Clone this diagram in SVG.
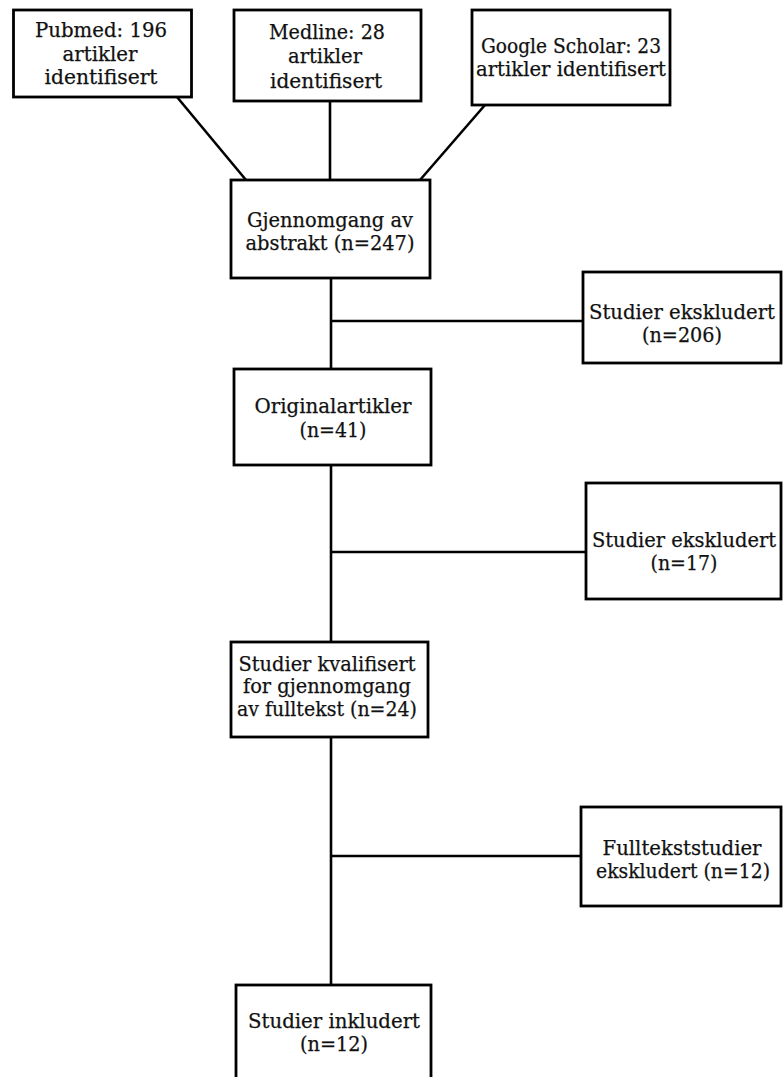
<svg xmlns="http://www.w3.org/2000/svg" width="784" height="1077" viewBox="0 0 784 1077">
<style>
.box{fill:#fff;stroke:#000;stroke-width:2.8}
.t{font-family:"DejaVu Serif","Liberation Serif",serif;font-size:20px;fill:#111;stroke:#111;stroke-width:0.25;text-anchor:middle}
.c{stroke:#000;stroke-width:2.6;fill:none}
</style>
<rect width="784" height="1077" fill="#fff"/>
<g id="connectors">
<line class="c" x1="177" y1="97" x2="246" y2="180"/>
<line class="c" x1="330" y1="101" x2="330" y2="180"/>
<line class="c" x1="485" y1="105" x2="420" y2="180"/>
<line class="c" x1="331" y1="278" x2="331" y2="369"/>
<line class="c" x1="331" y1="321" x2="583" y2="321"/>
<line class="c" x1="331" y1="465" x2="331" y2="642"/>
<line class="c" x1="331" y1="552" x2="586" y2="552"/>
<line class="c" x1="331" y1="737" x2="331" y2="985"/>
<line class="c" x1="331" y1="856" x2="581" y2="856"/>
</g>
<g id="pubmed">
<rect class="box" x="13.5" y="10" width="178" height="87"/>
<text class="t" x="101" y="37" textLength="132" lengthAdjust="spacingAndGlyphs">Pubmed: 196</text>
<text class="t" x="100" y="61" textLength="75" lengthAdjust="spacingAndGlyphs">artikler</text>
<text class="t" x="101" y="84" textLength="113" lengthAdjust="spacingAndGlyphs">identifisert</text>
</g>
<g id="medline">
<rect class="box" x="234" y="10" width="187" height="91"/>
<text class="t" x="327" y="39" textLength="116" lengthAdjust="spacingAndGlyphs">Medline: 28</text>
<text class="t" x="325" y="63" textLength="74" lengthAdjust="spacingAndGlyphs">artikler</text>
<text class="t" x="326" y="88" textLength="112" lengthAdjust="spacingAndGlyphs">identifisert</text>
</g>
<g id="google">
<rect class="box" x="472" y="10" width="198" height="95"/>
<text class="t" x="571" y="53" textLength="180" lengthAdjust="spacingAndGlyphs">Google Scholar: 23</text>
<text class="t" x="571" y="76" textLength="190" lengthAdjust="spacingAndGlyphs">artikler identifisert</text>
</g>
<g id="gjennomgang">
<rect class="box" x="231" y="180" width="199" height="98"/>
<text class="t" x="330" y="227" textLength="166" lengthAdjust="spacingAndGlyphs">Gjennomgang av</text>
<text class="t" x="330" y="250" textLength="169" lengthAdjust="spacingAndGlyphs">abstrakt (n=247)</text>
</g>
<g id="ekskludert1">
<rect class="box" x="583" y="272" width="198" height="91"/>
<text class="t" x="682" y="319" textLength="186" lengthAdjust="spacingAndGlyphs">Studier ekskludert</text>
<text class="t" x="682" y="342" textLength="80" lengthAdjust="spacingAndGlyphs">(n=206)</text>
</g>
<g id="original">
<rect class="box" x="234" y="369" width="197" height="96"/>
<text class="t" x="333" y="413" textLength="157" lengthAdjust="spacingAndGlyphs">Originalartikler</text>
<text class="t" x="333" y="437" textLength="67" lengthAdjust="spacingAndGlyphs">(n=41)</text>
</g>
<g id="ekskludert2">
<rect class="box" x="586" y="483" width="195" height="116"/>
<text class="t" x="684" y="547" textLength="184" lengthAdjust="spacingAndGlyphs">Studier ekskludert</text>
<text class="t" x="684" y="570" textLength="67" lengthAdjust="spacingAndGlyphs">(n=17)</text>
</g>
<g id="kvalifisert">
<rect class="box" x="231" y="642" width="197" height="95"/>
<text class="t" x="327" y="671" textLength="177" lengthAdjust="spacingAndGlyphs">Studier kvalifisert</text>
<text class="t" x="327" y="693" textLength="168" lengthAdjust="spacingAndGlyphs">for gjennomgang</text>
<text class="t" x="327" y="716" textLength="180" lengthAdjust="spacingAndGlyphs">av fulltekst (n=24)</text>
</g>
<g id="ekskludert3">
<rect class="box" x="581" y="807" width="200" height="99"/>
<text class="t" x="682" y="855" textLength="159" lengthAdjust="spacingAndGlyphs">Fulltekststudier</text>
<text class="t" x="683" y="878" textLength="174" lengthAdjust="spacingAndGlyphs">ekskludert (n=12)</text>
</g>
<g id="inkludert">
<rect class="box" x="236" y="985" width="195" height="120"/>
<text class="t" x="334" y="1028" textLength="172" lengthAdjust="spacingAndGlyphs">Studier inkludert</text>
<text class="t" x="334" y="1051" textLength="68" lengthAdjust="spacingAndGlyphs">(n=12)</text>
</g>
</svg>
